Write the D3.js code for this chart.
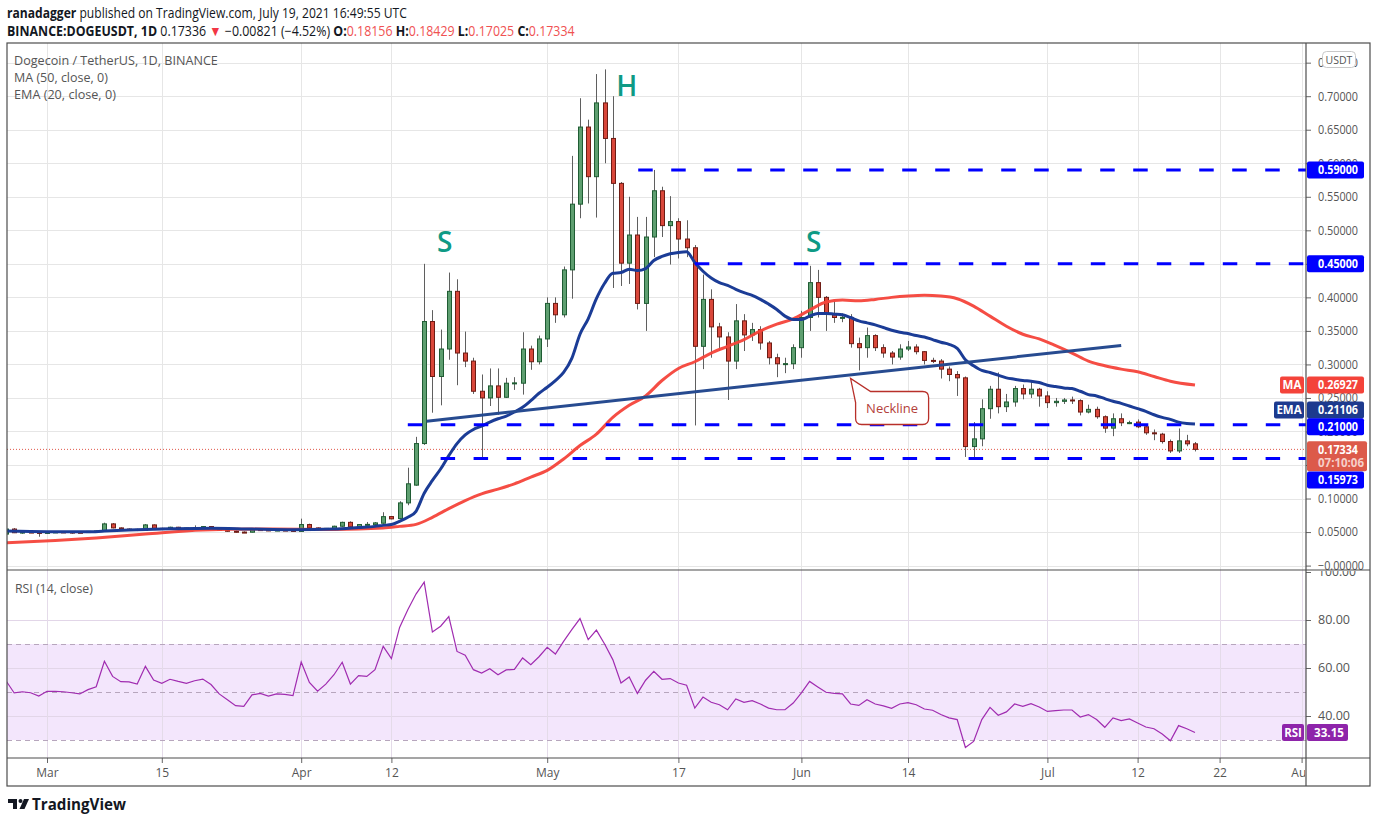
<!DOCTYPE html>
<html>
<head>
<meta charset="utf-8">
<title>Dogecoin / TetherUS, 1D</title>
<script src="https://unpkg.com/d3@7.8.2/dist/d3.min.js"></script>
<style>
  body { margin: 0; background: #fff; }
  text { font-family: "Open Sans", "Noto Sans", sans-serif; }
</style>
</head>
<body>
<div id="chart"></div>
<script>
// daily candles, first one is Feb 24 2021
const firstDay = new Date(Date.UTC(2021, 1, 24));

const opens = [
  0.0470, 0.0545, 0.0490, 0.0500, 0.0495, 0.0480, 0.0502, 0.0502, 0.0500, 0.0497,
  0.0493, 0.0510, 0.0517, 0.0622, 0.0562, 0.0545, 0.0540, 0.0527, 0.0607, 0.0555,
  0.0547, 0.0572, 0.0552, 0.0560, 0.0565, 0.0582, 0.0555, 0.0527, 0.0512, 0.0500,
  0.0498, 0.0537, 0.0532, 0.0520, 0.0530, 0.0532, 0.0510, 0.0612, 0.0562, 0.0545,
  0.0555, 0.0587, 0.0645, 0.0577, 0.0612, 0.0610, 0.0632, 0.0731, 0.0701, 0.0935,
  0.1200, 0.1820, 0.3640, 0.2820, 0.3230, 0.4090, 0.3170, 0.3050, 0.2600, 0.2500,
  0.2680, 0.2510, 0.2720, 0.2720, 0.3230, 0.3040, 0.3380, 0.3910, 0.3740, 0.4410,
  0.5390, 0.6540, 0.5800, 0.6900, 0.6370, 0.5700, 0.4510, 0.4930, 0.3910, 0.4900,
  0.5590, 0.5070, 0.5130, 0.4870, 0.4740, 0.3270, 0.3970, 0.3560, 0.3410, 0.3050,
  0.3650, 0.3440, 0.3520, 0.3320, 0.3100, 0.3010, 0.3010, 0.3250, 0.3700, 0.4220,
  0.4000, 0.3760, 0.3700, 0.3700, 0.3310, 0.3250, 0.3430, 0.3250, 0.3170, 0.3110,
  0.3230, 0.3260, 0.3190, 0.3060, 0.3050, 0.2930, 0.2850, 0.2800, 0.1775, 0.1890,
  0.2340, 0.2630, 0.2370, 0.2440, 0.2640, 0.2560, 0.2630, 0.2530, 0.2430, 0.2450,
  0.2470, 0.2460, 0.2290, 0.2330, 0.2220, 0.2050, 0.2190, 0.2130, 0.2140, 0.2070,
  0.1980, 0.1960, 0.1850, 0.1710, 0.1860, 0.18156
];
const highs = [
  0.0555, 0.0560, 0.0520, 0.0515, 0.0505, 0.0510, 0.0512, 0.0510, 0.0508, 0.0505,
  0.0515, 0.0522, 0.0640, 0.0635, 0.0570, 0.0555, 0.0550, 0.0620, 0.0615, 0.0565,
  0.0580, 0.0578, 0.0565, 0.0600, 0.0590, 0.0587, 0.0560, 0.0535, 0.0522, 0.0510,
  0.0545, 0.0545, 0.0540, 0.0535, 0.0537, 0.0540, 0.0700, 0.0625, 0.0570, 0.0560,
  0.0595, 0.0655, 0.0660, 0.0620, 0.0650, 0.0650, 0.0796, 0.0740, 0.0960, 0.1460,
  0.1920, 0.4500, 0.3810, 0.3520, 0.4370, 0.4270, 0.3490, 0.3100, 0.2850, 0.2940,
  0.2940, 0.2800, 0.2810, 0.3480, 0.3280, 0.3430, 0.4000, 0.4000, 0.4460, 0.6110,
  0.6970, 0.6650, 0.7330, 0.7400, 0.7000, 0.5720, 0.5500, 0.5200, 0.5200, 0.5900,
  0.5650, 0.5510, 0.5180, 0.5150, 0.4780, 0.4340, 0.4120, 0.3620, 0.3480, 0.3900,
  0.3750, 0.3620, 0.3570, 0.3350, 0.3160, 0.3100, 0.3300, 0.3800, 0.4470, 0.4410,
  0.4020, 0.3950, 0.3760, 0.3750, 0.3400, 0.3550, 0.3450, 0.3300, 0.3200, 0.3300,
  0.3350, 0.3300, 0.3200, 0.3100, 0.3080, 0.2970, 0.2900, 0.2820, 0.2140, 0.2480,
  0.2680, 0.2880, 0.2560, 0.2680, 0.2700, 0.2750, 0.2650, 0.2600, 0.2500, 0.2500,
  0.2520, 0.2480, 0.2400, 0.2370, 0.2240, 0.2270, 0.2270, 0.2160, 0.2180, 0.2100,
  0.2030, 0.1980, 0.1880, 0.2045, 0.1950, 0.18429
];
const lows = [
  0.0465, 0.0485, 0.0475, 0.0485, 0.0430, 0.0475, 0.0490, 0.0495, 0.0475, 0.0488,
  0.0490, 0.0500, 0.0510, 0.0555, 0.0530, 0.0525, 0.0515, 0.0520, 0.0545, 0.0535,
  0.0540, 0.0540, 0.0545, 0.0550, 0.0555, 0.0550, 0.0520, 0.0505, 0.0490, 0.0485,
  0.0495, 0.0520, 0.0515, 0.0515, 0.0520, 0.0505, 0.0505, 0.0550, 0.0530, 0.0535,
  0.0550, 0.0580, 0.0570, 0.0570, 0.0600, 0.0600, 0.0625, 0.0690, 0.0690, 0.0900,
  0.1190, 0.1800, 0.2280, 0.2390, 0.3070, 0.2690, 0.2960, 0.2560, 0.1590, 0.2380,
  0.2250, 0.2500, 0.2620, 0.2550, 0.2920, 0.3000, 0.3260, 0.3620, 0.3700, 0.3980,
  0.5180, 0.5400, 0.5190, 0.6000, 0.4140, 0.4170, 0.4200, 0.3820, 0.3500, 0.4600,
  0.4900, 0.4490, 0.4580, 0.4600, 0.2090, 0.2930, 0.3100, 0.3200, 0.2470, 0.2930,
  0.3200, 0.3350, 0.3220, 0.3000, 0.2810, 0.2870, 0.2930, 0.3100, 0.3500, 0.3700,
  0.3500, 0.3620, 0.3630, 0.3250, 0.2910, 0.3100, 0.3200, 0.3100, 0.3000, 0.3070,
  0.3200, 0.3150, 0.3000, 0.3020, 0.2790, 0.2750, 0.2530, 0.1620, 0.1580, 0.1780,
  0.2190, 0.2270, 0.2290, 0.2370, 0.2480, 0.2500, 0.2370, 0.2350, 0.2370, 0.2410,
  0.2410, 0.2240, 0.2270, 0.2190, 0.1980, 0.1930, 0.2080, 0.2110, 0.2050, 0.1950,
  0.1870, 0.1820, 0.1680, 0.1680, 0.1780, 0.17025
];
const closes = [
  0.0545, 0.0490, 0.0500, 0.0495, 0.0480, 0.0502, 0.0502, 0.0500, 0.0497, 0.0493,
  0.0510, 0.0517, 0.0622, 0.0562, 0.0545, 0.0540, 0.0527, 0.0607, 0.0555, 0.0547,
  0.0572, 0.0552, 0.0560, 0.0565, 0.0582, 0.0555, 0.0527, 0.0512, 0.0500, 0.0498,
  0.0537, 0.0532, 0.0518, 0.0530, 0.0528, 0.0510, 0.0612, 0.0562, 0.0537, 0.0555,
  0.0587, 0.0645, 0.0577, 0.0612, 0.0615, 0.0637, 0.0730, 0.0697, 0.0935, 0.1220,
  0.1820, 0.3640, 0.2820, 0.3230, 0.4090, 0.3170, 0.3050, 0.2600, 0.2500, 0.2680,
  0.2510, 0.2720, 0.2725, 0.3230, 0.3040, 0.3380, 0.3910, 0.3740, 0.4410, 0.5390,
  0.6540, 0.5800, 0.6900, 0.6370, 0.5700, 0.4510, 0.4930, 0.3910, 0.4900, 0.5590,
  0.5070, 0.5130, 0.4870, 0.4740, 0.3270, 0.3970, 0.3560, 0.3410, 0.3050, 0.3650,
  0.3440, 0.3520, 0.3320, 0.3100, 0.3010, 0.3012, 0.3250, 0.3700, 0.4220, 0.4000,
  0.3760, 0.3700, 0.3702, 0.3310, 0.3250, 0.3430, 0.3250, 0.3170, 0.3110, 0.3230,
  0.3260, 0.3190, 0.3060, 0.3050, 0.2930, 0.2850, 0.2800, 0.1775, 0.1890, 0.2340,
  0.2630, 0.2370, 0.2440, 0.2640, 0.2560, 0.2630, 0.2530, 0.2430, 0.2450, 0.2470,
  0.2460, 0.2290, 0.2330, 0.2220, 0.2050, 0.2190, 0.2130, 0.2132, 0.2070, 0.1980,
  0.1975, 0.1850, 0.1710, 0.1860, 0.1816, 0.17334
];

// RSI (14) one value per candle
const rsiValues = [
  54.7, 49.6, 50.1, 49.7, 48.3, 50.3, 50.3, 50.1, 49.7, 49.2,
  51.0, 52.2, 62.8, 56.5, 54.3, 54.2, 53.3, 60.7, 55.0, 53.6,
  55.3, 54.4, 53.6, 54.7, 55.4, 53.1, 49.2, 46.8, 44.3, 44.0,
  48.8, 49.4, 48.3, 49.2, 49.0, 48.5, 62.5, 54.0, 50.3, 53.3,
  57.2, 62.4, 53.3, 56.8, 56.5, 59.3, 69.0, 63.9, 76.9, 84.3,
  90.8, 95.8, 75.0, 77.4, 81.4, 66.9, 65.3, 59.3, 57.9, 59.7,
  57.2, 59.2, 59.4, 64.2, 61.4, 64.7, 68.6, 65.8, 71.1, 76.0,
  80.6, 71.8, 75.8, 70.0, 63.5, 53.75, 56.25, 49.4, 54.9, 58.6,
  55.3, 55.6, 53.75, 52.8, 43.3, 47.9, 45.7, 44.7, 42.6, 47.1,
  45.7, 46.4, 45.0, 43.3, 42.6, 42.6, 45.4, 49.6, 54.4, 52.1,
  49.9, 49.4, 49.2, 45.0, 44.4, 46.8, 45.0, 44.2, 43.2, 45.0,
  45.6, 44.7, 42.9, 42.4, 40.6, 39.2, 38.5, 26.9, 29.4, 38.5,
  43.6, 40.3, 41.7, 45.0, 44.0, 45.1, 43.75, 41.9, 42.2, 42.5,
  42.5, 39.6, 40.6, 38.5, 35.3, 39.2, 38.1, 38.75, 37.1, 35.4,
  34.7, 32.5, 29.7, 36.0, 34.7, 33.15
];

// EMA(20) and MA(50), by day offset from the first candle
const emaDays = [0, 5, 10, 12, 15, 20, 25, 30, 35, 40, 43, ...d3.range(45, 146)];
const emaValues = [
  0.0515, 0.0505, 0.0503, 0.0515, 0.0530, 0.0548, 0.0558, 0.0545, 0.0535, 0.0545, 0.0568,
  0.0585, 0.0600, 0.0612, 0.0660, 0.0720, 0.0810, 0.1080, 0.1270, 0.1440, 0.1640,
  0.1820, 0.1950, 0.2030, 0.2080, 0.2140, 0.2190, 0.2230, 0.2290, 0.2360, 0.2460,
  0.2570, 0.2660, 0.2760, 0.2880, 0.3090, 0.3450, 0.3680, 0.3980, 0.4210, 0.4360,
  0.4370, 0.4420, 0.4400, 0.4430, 0.4550, 0.4610, 0.4650, 0.4670, 0.4680, 0.4520,
  0.4390, 0.4290, 0.4220, 0.4180, 0.4120, 0.4070, 0.4030, 0.3970, 0.3900, 0.3820,
  0.3720, 0.3670, 0.3670, 0.3720, 0.3760, 0.3760, 0.3750, 0.3740, 0.3700, 0.3650,
  0.3620, 0.3590, 0.3550, 0.3510, 0.3480, 0.3460, 0.3430, 0.3410, 0.3370, 0.3330,
  0.3300, 0.3240, 0.3070, 0.2980, 0.2910, 0.2880, 0.2840, 0.2800, 0.2780, 0.2760,
  0.2750, 0.2730, 0.2690, 0.2670, 0.2650, 0.2640, 0.2600, 0.2550, 0.2530, 0.2490,
  0.2450, 0.2420, 0.2380, 0.2340, 0.2300, 0.2250, 0.2210, 0.2180, 0.2140, 0.2120,
  0.21106
];
const maDays = [0, 6, 11, 17, 24, 32, 40, 46, 48, 50, 52, 54, 56, 58, 60, 62, 64, 66, 68, 70,
  72, 74, 76, 78, 80, 82, 84, 86, 88, 90, 92, 94, 96, 98, 100, 102, 104, 106, 108, 110,
  112, 114, 116, 118, 120, 122, 124, 126, 128, 130, 132, 134, 136, 138, 140, 142, 145];
const maValues = [0.0340, 0.0375, 0.0413, 0.0470, 0.0530, 0.0547, 0.0540, 0.0560, 0.0585, 0.0615,
  0.0720, 0.0850, 0.0970, 0.1070, 0.1140, 0.1220, 0.1320, 0.1420, 0.1590, 0.1790,
  0.1960, 0.2210, 0.2390, 0.2530, 0.2760, 0.2940, 0.3040, 0.3170, 0.3270, 0.3370,
  0.3500, 0.3600, 0.3680, 0.3810, 0.3930, 0.3960, 0.3950, 0.3970, 0.4000, 0.4020,
  0.4030, 0.4020, 0.3980, 0.3870, 0.3720, 0.3570, 0.3450, 0.3380, 0.3280, 0.3170,
  0.3050, 0.2980, 0.2930, 0.2890, 0.2820, 0.2750, 0.26927];

// drawings on the chart
const levelPrices = [0.59, 0.45, 0.21, 0.15973];
const levelStartDays = [77.1, 84, 49, 53];
const necklineDays = [51.3, 136];
const necklinePrices = [0.2154, 0.3284];
const patternLabels = ["S", "H", "S"];
const patternDays = [53.5, 75.7, 98.5];
const patternPrices = [0.482, 0.715, 0.482];
const calloutDay = 103, calloutPrice = 0.279;

const priceTicks = [0, 0.05, 0.1, 0.15, 0.2, 0.25, 0.3, 0.35, 0.4, 0.45, 0.5, 0.55, 0.6, 0.65, 0.7, 0.75];
const rsiTicks = [40, 60, 80, 100];
const timeTicks = ["2021-03-01", "2021-03-15", "2021-04-01", "2021-04-12", "2021-05-01", "2021-05-17",
  "2021-06-01", "2021-06-14", "2021-07-01", "2021-07-12", "2021-07-22", "2021-08-01"];
const lastPrice = 0.17334, lastMA = 0.26927, lastEMA = 0.21106, lastRSI = 33.15;

// ---- layout ----
const W = 1376, H = 823;
const left = 7, axisX = 1306, right = 1370;
const mainTop = 43, mainBottom = 570, rsiBottom = 758, frameBottom = 786;

const dayDate = d => new Date(firstDay.getTime() + d * 864e5);

const x = d3.scaleUtc()
  .domain([firstDay, new Date(Date.UTC(2021, 7, 1))])
  .range([6, 1301.6]);
const y = d3.scaleLinear().domain([0, 0.7]).range([565.6, 96.2]);
const yR = d3.scaleLinear().domain([40, 80]).range([716, 620]);

const svg = d3.select("#chart").append("svg")
  .attr("width", W).attr("height", H)
  .style("display", "block");

const defs = svg.append("defs");
const clip = (id, x0, y0, w, h) => defs.append("clipPath").attr("id", id).append("rect")
  .attr("x", x0).attr("y", y0).attr("width", w).attr("height", h);
clip("clipMain", left, mainTop, axisX - left, mainBottom - mainTop);
clip("clipRsi", left, mainBottom, axisX - left, rsiBottom - mainBottom);
clip("clipPriceAxis", axisX, mainTop, right - axisX, mainBottom - mainTop + 1);
clip("clipRsiAxis", axisX, mainBottom + 1, right - axisX, rsiBottom - mainBottom);
clip("clipTime", left, rsiBottom, axisX - left - 1, frameBottom - rsiBottom);

// squeeze a text element horizontally so it spans the given width
function fitWidth(sel, width) {
  const w = sel.node().getComputedTextLength();
  const x0 = +sel.attr("x");
  if (w > 0) sel.attr("transform", `translate(${x0},0) scale(${width / w},1) translate(${-x0},0)`);
}

// ---- header ----
const h1 = svg.append("text").attr("x", 7).attr("y", 18).attr("font-size", 14).attr("fill", "#131722");
h1.append("tspan").attr("font-weight", 700).text("ranadagger");
h1.append("tspan").text(" published on TradingView.com, July 19, 2021 16:49:55 UTC");
fitWidth(h1, 400);

const red = "#f05252";
const h2 = svg.append("text").attr("x", 7).attr("y", 36).attr("font-size", 14).attr("fill", "#131722");
h2.append("tspan").attr("font-weight", 700).text("BINANCE:DOGEUSDT, 1D");
h2.append("tspan").text("  0.17336 ");
h2.append("tspan").attr("fill", "#f23645").text("▼");
h2.append("tspan").text(" −0.00821 (−4.52%) ");
[["O:", "0.18156"], ["H:", "0.18429"], ["L:", "0.17025"], ["C:", "0.17334"]].forEach((p, i) => {
  h2.append("tspan").attr("font-weight", 700).text((i ? " " : "") + p[0]);
  h2.append("tspan").attr("fill", red).text(p[1]);
});
fitWidth(h2, 568);

// ---- grid ----
const grid = svg.append("g").attr("stroke", "#e6e6e6").attr("stroke-width", 1);
const tickDates = timeTicks.map(s => new Date(s + "T00:00:00Z"));
grid.selectAll(".vg").data(tickDates).join("line")
  .attr("x1", d => Math.round(x(d)) + 0.5).attr("x2", d => Math.round(x(d)) + 0.5)
  .attr("y1", mainTop).attr("y2", rsiBottom);
grid.selectAll(".hg").data(priceTicks).join("line")
  .attr("x1", left).attr("x2", axisX)
  .attr("y1", d => Math.round(y(d)) + 0.5).attr("y2", d => Math.round(y(d)) + 0.5);

// ---- RSI pane background ----
const rsiG = svg.append("g").attr("clip-path", "url(#clipRsi)");
rsiG.append("rect")
  .attr("x", left).attr("width", axisX - left)
  .attr("y", yR(70)).attr("height", yR(30) - yR(70))
  .attr("fill", "#f3e6fc");
rsiG.selectAll(".rg").data([80, 60, 40]).join("line")
  .attr("x1", left).attr("x2", axisX)
  .attr("y1", d => Math.round(yR(d)) + 0.5).attr("y2", d => Math.round(yR(d)) + 0.5)
  .attr("stroke", "#e2d6e8");
rsiG.selectAll(".rv").data(tickDates).join("line")
  .attr("x1", d => Math.round(x(d)) + 0.5).attr("x2", d => Math.round(x(d)) + 0.5)
  .attr("y1", mainBottom).attr("y2", rsiBottom)
  .attr("stroke", "#e4dbe9");
rsiG.selectAll(".rd").data([70, 50, 30]).join("line")
  .attr("x1", left).attr("x2", axisX)
  .attr("y1", d => Math.round(yR(d)) + 0.5).attr("y2", d => Math.round(yR(d)) + 0.5)
  .attr("stroke", "#b7a6bd").attr("stroke-dasharray", "5,4");
rsiG.append("path")
  .datum(rsiValues)
  .attr("d", d3.line().x((d, i) => x(dayDate(i))).y(d => yR(d)))
  .attr("fill", "none").attr("stroke", "#a02cb0").attr("stroke-width", 1.2);

svg.append("text").attr("x", 15).attr("y", 593).attr("font-size", 13).attr("fill", "#555")
  .text("RSI (14, close)").call(s => fitWidth(s, 78));

// ---- main pane ----
const main = svg.append("g").attr("clip-path", "url(#clipMain)");

// last price dotted line
main.append("line")
  .attr("x1", left).attr("x2", axisX)
  .attr("y1", y(lastPrice)).attr("y2", y(lastPrice))
  .attr("stroke", "#e0574a").attr("stroke-dasharray", "1,2");

const candles = opens.map((o, i) => ({ date: dayDate(i), o, h: highs[i], l: lows[i], c: closes[i] }));
const cg = main.append("g");
cg.selectAll(".wick").data(candles).join("line")
  .attr("x1", d => Math.round(x(d.date)) + 0.5).attr("x2", d => Math.round(x(d.date)) + 0.5)
  .attr("y1", d => y(d.h)).attr("y2", d => y(d.l))
  .attr("stroke", "#5f5f5f").attr("stroke-width", 1);
cg.selectAll(".body").data(candles).join("rect")
  .attr("x", d => Math.round(x(d.date)) - 2 + 0.5)
  .attr("width", 4)
  .attr("y", d => y(Math.max(d.o, d.c)))
  .attr("height", d => Math.max(1, Math.abs(y(d.o) - y(d.c))))
  .attr("fill", d => d.c >= d.o ? "#5e9f70" : "#d9473a")
  .attr("stroke", d => d.c >= d.o ? "#1f5c33" : "#6e1c14")
  .attr("stroke-width", 1);

// moving averages
const lineOf = (days, vals) => d3.line()
  .x((d, i) => x(dayDate(days[i]))).y(d => y(d))
  .curve(d3.curveMonotoneX)(vals);
main.append("path").attr("d", lineOf(maDays, maValues))
  .attr("fill", "none").attr("stroke", "#f4433a").attr("stroke-width", 3).attr("stroke-opacity", 0.95);
main.append("path").attr("d", lineOf(emaDays, emaValues))
  .attr("fill", "none").attr("stroke", "#1b3c96").attr("stroke-width", 3);

// neckline
main.append("line")
  .attr("x1", x(dayDate(necklineDays[0]))).attr("y1", y(necklinePrices[0]))
  .attr("x2", x(dayDate(necklineDays[1]))).attr("y2", y(necklinePrices[1]))
  .attr("stroke", "#274b90").attr("stroke-width", 3);

// horizontal levels
main.selectAll(".lvl").data(levelPrices).join("line")
  .attr("x1", (d, i) => x(dayDate(levelStartDays[i]))).attr("x2", axisX)
  .attr("y1", d => y(d)).attr("y2", d => y(d))
  .attr("stroke", "#0000ff").attr("stroke-width", 3).attr("stroke-dasharray", "14.5,18.5");

// S / H / S
main.selectAll(".pat").data(patternLabels).join("text")
  .attr("x", (d, i) => x(dayDate(patternDays[i])))
  .attr("y", (d, i) => y(patternPrices[i]) + 10)
  .attr("text-anchor", "middle")
  .attr("font-size", 28).attr("font-weight", 600)
  .attr("fill", "#0e9a85")
  .text(d => d);

// neckline callout
{
  const tx = x(dayDate(calloutDay)), ty = y(calloutPrice);
  const bx = tx + 5, by = ty + 13, bw = 73, bh = 33, r = 6;
  const p = d3.path();
  p.moveTo(bx + 15, by);
  p.lineTo(bx + bw - r, by); p.quadraticCurveTo(bx + bw, by, bx + bw, by + r);
  p.lineTo(bx + bw, by + bh - r); p.quadraticCurveTo(bx + bw, by + bh, bx + bw - r, by + bh);
  p.lineTo(bx + r, by + bh); p.quadraticCurveTo(bx, by + bh, bx, by + bh - r);
  p.lineTo(bx, by + 11); p.lineTo(tx, ty); p.closePath();
  main.append("path").attr("d", p.toString())
    .attr("fill", "#fff").attr("stroke", "#b8302a").attr("stroke-width", 1.3);
  main.append("text").attr("x", bx + bw / 2).attr("y", by + bh / 2 + 5)
    .attr("text-anchor", "middle").attr("font-size", 13).attr("fill", "#b3403a")
    .text("Neckline");
}

// ---- axes (clip on an outer group, transform on the inner one) ----
const priceAxis = svg.append("g").attr("clip-path", "url(#clipPriceAxis)")
  .append("g").attr("transform", `translate(${axisX},0)`)
  .call(d3.axisRight(y).tickValues(priceTicks).tickSize(5).tickPadding(7)
    .tickFormat(d => d < 1e-9 ? "−0.00000" : d.toFixed(5)));
const rsiAxis = svg.append("g").attr("clip-path", "url(#clipRsiAxis)")
  .append("g").attr("transform", `translate(${axisX},0)`)
  .call(d3.axisRight(yR).tickValues(rsiTicks).tickSize(5).tickPadding(7)
    .tickFormat(d => d.toFixed(2)));
const timeAxis = svg.append("g").attr("clip-path", "url(#clipTime)")
  .append("g").attr("transform", `translate(0,${rsiBottom})`)
  .call(d3.axisBottom(x).tickValues(tickDates).tickSize(5).tickPadding(5)
    .tickFormat(d => d.getUTCDate() === 1 ? d3.utcFormat("%b")(d) : d.getUTCDate()));
[priceAxis, rsiAxis, timeAxis].forEach(a => {
  a.select(".domain").remove();
  a.selectAll(".tick line").attr("stroke", "#666");
  a.selectAll(".tick text").attr("fill", "#555").attr("font-size", 12)
    .attr("font-family", "Roboto, 'Noto Sans', sans-serif");
});
priceAxis.selectAll(".tick text").attr("textLength", d => d < 1e-9 ? 46 : 40).attr("lengthAdjust", "spacingAndGlyphs");
rsiAxis.selectAll(".tick text").attr("textLength", d => d >= 100 ? 38 : 32).attr("lengthAdjust", "spacingAndGlyphs");

// ---- value tags on the price scale ----
function tag(cy, label, fill, h = 17, w = 57) {
  const g = svg.append("g");
  g.append("rect").attr("x", axisX + 1).attr("y", cy - h / 2).attr("width", w).attr("height", h)
    .attr("rx", 2).attr("fill", fill);
  g.append("text").attr("x", axisX + 12).attr("y", cy + 4.3)
    .attr("font-size", 12).attr("font-weight", 700).attr("fill", "#fff")
    .attr("font-family", "Roboto, 'Noto Sans', sans-serif")
    .attr("textLength", 40).attr("lengthAdjust", "spacingAndGlyphs")
    .text(label);
  return g;
}
function sideTag(cy, label, fill, w) {
  svg.append("rect").attr("x", axisX - 2 - w).attr("y", cy - 8.5).attr("width", w).attr("height", 17)
    .attr("rx", 2).attr("fill", fill);
  svg.append("text").attr("x", axisX - 2 - w / 2).attr("y", cy + 4.3).attr("text-anchor", "middle")
    .attr("font-size", 11.5).attr("font-weight", 700).attr("fill", "#fff")
    .attr("font-family", "Roboto, 'Noto Sans', sans-serif")
    .text(label);
}

tag(y(levelPrices[0]), "0.59000", "#0000ff");
tag(y(levelPrices[1]), "0.45000", "#0000ff");
sideTag(y(lastMA), "MA", "#f4433a", 24);
tag(y(lastMA), lastMA.toFixed(5), "#f4433a");
sideTag(y(lastEMA) - 14, "EMA", "#1d3a8e", 30);
tag(y(lastEMA) - 14, lastEMA.toFixed(5), "#1d3a8e");
tag(y(levelPrices[2]) + 2, "0.21000", "#0000ff");
{
  const cy = y(lastPrice);
  svg.append("rect").attr("x", axisX + 1).attr("y", cy - 8).attr("width", 60).attr("height", 30)
    .attr("rx", 2).attr("fill", "#dc5a4a");
  svg.append("text").attr("x", axisX + 12).attr("y", cy + 5)
    .attr("font-size", 12).attr("font-weight", 700).attr("fill", "#fff")
    .attr("font-family", "Roboto, 'Noto Sans', sans-serif")
    .attr("textLength", 40).attr("lengthAdjust", "spacingAndGlyphs")
    .text(lastPrice.toFixed(5));
  svg.append("text").attr("x", axisX + 12).attr("y", cy + 18)
    .attr("font-size", 12).attr("font-weight", 700).attr("fill", "#f6cfc9")
    .attr("font-family", "Roboto, 'Noto Sans', sans-serif")
    .attr("textLength", 46).attr("lengthAdjust", "spacingAndGlyphs")
    .text("07:10:06");
}
tag(y(levelPrices[3]) + 21.5, "0.15973", "#0000ff");

// RSI tags
sideTag(yR(lastRSI), "RSI", "#8e24aa", 22);
svg.append("rect").attr("x", axisX + 1).attr("y", yR(lastRSI) - 8.5).attr("width", 41).attr("height", 17)
  .attr("rx", 2).attr("fill", "#8e24aa");
svg.append("text").attr("x", axisX + 8).attr("y", yR(lastRSI) + 4.3)
  .attr("font-size", 12).attr("font-weight", 700).attr("fill", "#fff")
  .attr("font-family", "Roboto, 'Noto Sans', sans-serif")
  .attr("textLength", 30).attr("lengthAdjust", "spacingAndGlyphs")
  .text(lastRSI.toFixed(2));

// currency box
svg.append("rect").attr("x", 1322.5).attr("y", 51.5).attr("width", 33).attr("height", 16)
  .attr("rx", 4).attr("fill", "#fff").attr("stroke", "#c8c8c8");
svg.append("text").attr("x", 1339).attr("y", 63.5).attr("text-anchor", "middle")
  .attr("font-size", 10.5).attr("fill", "#555")
  .attr("font-family", "Roboto, 'Noto Sans', sans-serif").text("USDT");

// ---- legend ----
[["Dogecoin / TetherUS, 1D, BINANCE", 65, 204], ["MA (50, close, 0)", 82, 94], ["EMA (20, close, 0)", 99, 102]]
  .forEach(d => {
    svg.append("text").attr("x", 14).attr("y", d[1]).attr("font-size", 13).attr("fill", "#555")
      .text(d[0]).call(s => fitWidth(s, d[2]));
  });

// ---- frame ----
const frame = svg.append("g").attr("stroke", "#4d4d4d").attr("stroke-width", 1.2).attr("fill", "none");
frame.append("rect").attr("x", left).attr("y", mainTop).attr("width", right - left).attr("height", frameBottom - mainTop);
frame.append("line").attr("x1", left).attr("x2", right).attr("y1", mainBottom).attr("y2", mainBottom);
frame.append("line").attr("x1", left).attr("x2", right).attr("y1", rsiBottom).attr("y2", rsiBottom);
frame.append("line").attr("x1", axisX).attr("x2", axisX).attr("y1", mainTop).attr("y2", frameBottom);

// ---- TradingView mark ----
const logo = svg.append("g").attr("fill", "#131722");
logo.append("path").attr("d", "M8 799h9v10h-4v-6h-5z");
logo.append("circle").attr("cx", 20.5).attr("cy", 801).attr("r", 2);
logo.append("path").attr("d", "M24 799h5l-4.5 10h-5z");
logo.append("text").attr("x", 32).attr("y", 810).attr("font-size", 16).attr("font-weight", 700)
  .attr("font-family", "Inter, 'Open Sans', sans-serif")
  .text("TradingView").call(s => fitWidth(s, 94));
</script>
</body>
</html>
